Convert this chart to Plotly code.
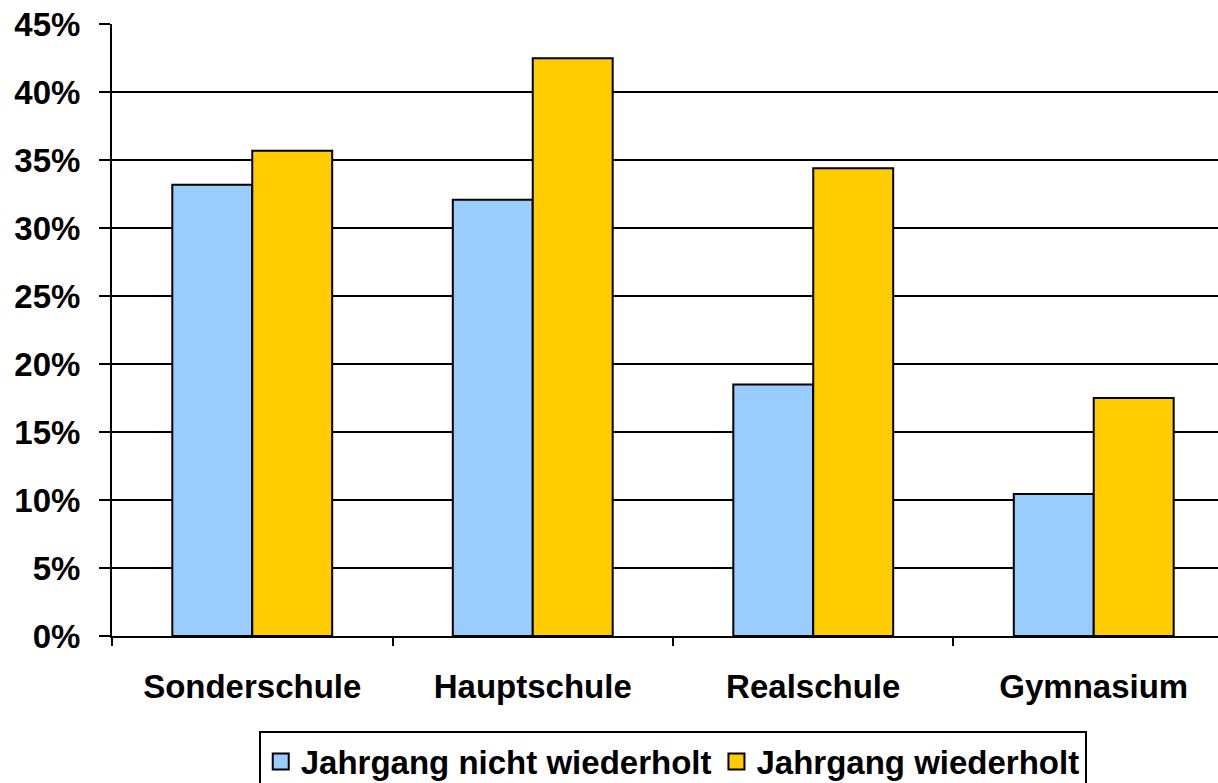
import plotly.graph_objects as go

categories = ["Sonderschule", "Hauptschule", "Realschule", "Gymnasium"]
nicht_wiederholt = [33.2, 32.1, 18.5, 10.45]
wiederholt = [35.7, 42.5, 34.4, 17.5]
series_names = ["Jahrgang nicht wiederholt", "Jahrgang wiederholt"]
y_ticks = [0, 5, 10, 15, 20, 25, 30, 35, 40, 45]
y_tick_labels = [f"{v}%" for v in y_ticks]

colors = ["#99CCFF", "#FFCC00"]
FAMILY = "Liberation Sans, Arial, sans-serif"
FONT = dict(family=FAMILY, size=33, color="black", weight="bold")

fig = go.Figure()
for name, vals, c in zip(series_names, [nicht_wiederholt, wiederholt], colors):
    fig.add_trace(go.Bar(x=categories, y=vals, name=name, marker=dict(color=c, line=dict(color="black", width=2)),
                         showlegend=False))
    fig.add_trace(go.Scatter(x=[None], y=[None], mode="markers", name=name,
                             marker=dict(symbol="square", size=20, color=c, line=dict(color="black", width=2))))

fig.update_layout(
    width=1218, height=783,
    margin=dict(l=112, r=0, t=24, b=147, autoexpand=False),
    paper_bgcolor="white", plot_bgcolor="white",
    barmode="group", bargap=0.43, bargroupgap=0,
    font=FONT,
    showlegend=True,
    legend=dict(orientation="h", x=0.507, xanchor="center", y=-0.156, yanchor="top",
                bordercolor="black", borderwidth=2, font=dict(size=33, family=FAMILY, weight="bold"),
                itemsizing="trace", itemwidth=30, tracegroupgap=0),
)
fig.update_xaxes(
    type="category", range=[-0.5, 3.443], showline=True, linecolor="black", linewidth=2,
    ticks="outside", tickson="boundaries", ticklen=8, tickwidth=2, tickcolor="black",
    showgrid=False, tickfont=dict(size=33), ticklabelstandoff=20, automargin=False,
)
fig.update_yaxes(
    range=[0, 45.02], tickmode="array", tickvals=y_ticks, ticktext=y_tick_labels, showline=True,
    linecolor="black", linewidth=2,
    ticks="outside", ticklen=11, tickwidth=2, tickcolor="black",
    showgrid=True, gridcolor="black", gridwidth=2, zeroline=False, tickfont=dict(size=33),
    ticklabelstandoff=12, automargin=False, ticklabeloverflow="allow",
)
fig.write_html("out.html", config={"displayModeBar": False},
               post_script="document.body.style.margin='0';")
